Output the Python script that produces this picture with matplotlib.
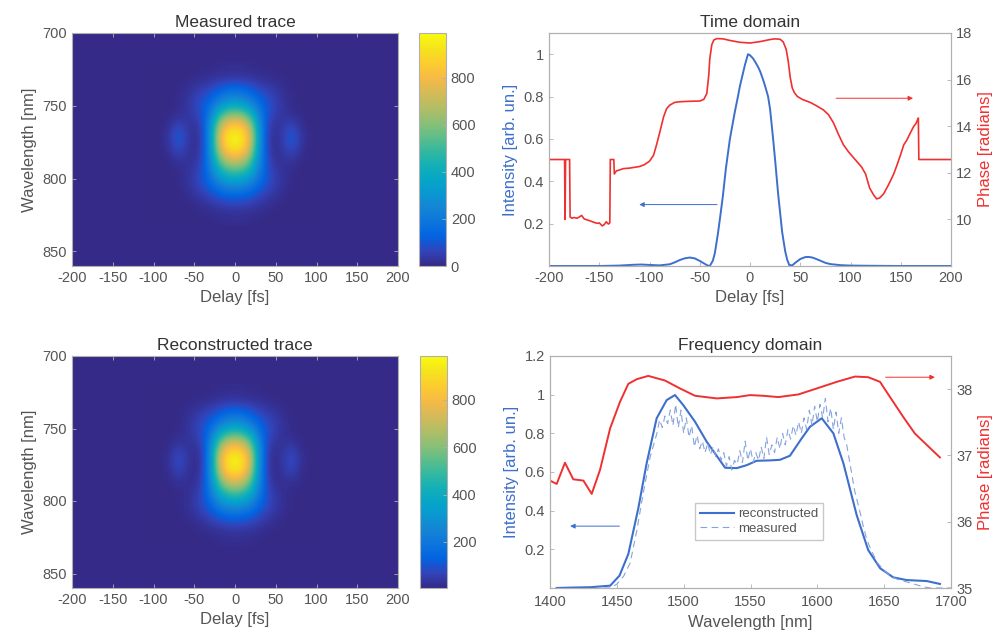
import numpy as np
import matplotlib
matplotlib.use("Agg")
import matplotlib.pyplot as plt
from matplotlib.colors import LinearSegmentedColormap

plt.rcParams['font.family'] = ['Liberation Sans', 'DejaVu Sans']
plt.rcParams['axes.unicode_minus'] = False

# parula-like colormap (every 4th entry of the 64 step table)
parula_pts = [
    (0.2081, 0.1663, 0.5292), (0.1959, 0.2645, 0.7279), (0.0117, 0.3875, 0.8820),
    (0.0498, 0.4586, 0.8641), (0.0793, 0.5200, 0.8312), (0.0343, 0.5966, 0.8199),
    (0.0228, 0.6535, 0.7768), (0.0843, 0.6928, 0.7062), (0.2178, 0.7250, 0.6193),
    (0.3953, 0.7459, 0.5244), (0.5709, 0.7485, 0.4494), (0.7184, 0.7411, 0.3905),
    (0.8507, 0.7299, 0.3360), (0.9739, 0.7314, 0.2666), (0.9880, 0.8066, 0.1794),
    (0.9589, 0.8949, 0.1132), (0.9763, 0.9831, 0.0538)]
parula = LinearSegmentedColormap.from_list("parula", parula_pts)

# ---- FROG traces (values read on a coarse grid, cell centres) ----
delay_nodes = [-100, -90, -80, -70, -60, -50, -40, -30, -20, -10, 0,
               10, 20, 30, 40, 50, 60, 70, 80, 90, 100]
wl_nodes = [724, 732, 740, 748, 756, 764, 772, 780, 788, 796, 804, 812, 820, 828]

trace_meas = [
    [0, 0, 0, 0, 0, 0, 0, 3, 6, 8, 10, 8, 6, 3, 0, 0, 0, 0, 0, 0, 0],
    [0, 0, 0, 0, 3, 8, 14, 20, 28, 34, 38, 34, 28, 20, 14, 8, 3, 0, 0, 0, 0],
    [0, 0, 0, 5, 15, 35, 55, 80, 115, 150, 165, 150, 115, 80, 55, 35, 15, 5, 0, 0, 0],
    [0, 0, 0, 8, 25, 60, 95, 145, 220, 290, 315, 290, 220, 145, 95, 60, 25, 8, 0, 0, 0],
    [0, 0, 3, 12, 25, 50, 90, 215, 430, 560, 600, 560, 430, 215, 90, 50, 25, 12, 3, 0, 0],
    [0, 0, 20, 70, 40, 20, 65, 285, 630, 820, 870, 820, 630, 285, 65, 20, 40, 70, 20, 0, 0],
    [0, 5, 40, 115, 65, 10, 50, 290, 720, 945, 990, 945, 720, 290, 50, 10, 65, 115, 40, 5, 0],
    [0, 0, 25, 80, 45, 10, 55, 280, 670, 880, 935, 880, 670, 280, 55, 10, 45, 80, 25, 0, 0],
    [0, 0, 5, 25, 22, 22, 70, 255, 520, 680, 720, 680, 520, 255, 70, 22, 22, 25, 5, 0, 0],
    [0, 0, 0, 5, 18, 45, 90, 200, 370, 465, 495, 465, 370, 200, 90, 45, 18, 5, 0, 0, 0],
    [0, 0, 0, 5, 20, 50, 88, 140, 215, 270, 285, 270, 215, 140, 88, 50, 20, 5, 0, 0, 0],
    [0, 0, 0, 0, 8, 22, 42, 68, 100, 120, 128, 120, 100, 68, 42, 22, 8, 0, 0, 0, 0],
    [0, 0, 0, 0, 0, 4, 10, 18, 28, 36, 40, 36, 28, 18, 10, 4, 0, 0, 0, 0, 0],
    [0, 0, 0, 0, 0, 0, 0, 3, 6, 8, 10, 8, 6, 3, 0, 0, 0, 0, 0, 0, 0],
]

trace_rec = [
    [5, 5, 5, 5, 5, 5, 5, 7, 10, 12, 13, 12, 10, 7, 5, 5, 5, 5, 5, 5, 5],
    [5, 5, 5, 5, 7, 11, 16, 22, 30, 37, 40, 37, 30, 22, 16, 11, 7, 5, 5, 5, 5],
    [5, 5, 5, 8, 16, 34, 52, 76, 110, 145, 160, 145, 110, 76, 52, 34, 16, 8, 5, 5, 5],
    [5, 5, 5, 10, 24, 55, 88, 138, 212, 285, 312, 285, 212, 138, 88, 55, 24, 10, 5, 5, 5],
    [5, 5, 7, 14, 24, 45, 82, 200, 420, 555, 595, 555, 420, 200, 82, 45, 24, 14, 7, 5, 5],
    [5, 5, 15, 55, 35, 18, 55, 265, 610, 810, 860, 810, 610, 265, 55, 18, 35, 55, 15, 5, 5],
    [5, 8, 30, 90, 55, 10, 42, 265, 700, 930, 986, 930, 700, 265, 42, 10, 55, 90, 30, 8, 5],
    [5, 5, 20, 65, 40, 10, 48, 258, 650, 870, 930, 870, 650, 258, 48, 10, 40, 65, 20, 5, 5],
    [5, 5, 8, 20, 18, 20, 62, 240, 505, 670, 720, 670, 505, 240, 62, 20, 18, 20, 8, 5, 5],
    [5, 5, 5, 8, 16, 40, 82, 188, 360, 455, 490, 455, 360, 188, 82, 40, 16, 8, 5, 5, 5],
    [5, 5, 5, 8, 20, 45, 80, 132, 205, 262, 280, 262, 205, 132, 80, 45, 20, 8, 5, 5, 5],
    [5, 5, 5, 5, 10, 22, 40, 65, 96, 116, 124, 116, 96, 65, 40, 22, 10, 5, 5, 5, 5],
    [5, 5, 5, 5, 5, 7, 12, 20, 29, 36, 40, 36, 29, 20, 12, 7, 5, 5, 5, 5, 5],
    [5, 5, 5, 5, 5, 5, 5, 7, 10, 12, 13, 12, 10, 7, 5, 5, 5, 5, 5, 5, 5],
]

# ---- time domain ----
t_int = [(-200, 0.0), (-150, 0.0), (-130, 0.002), (-115, 0.006), (-108, 0.007),
         (-100, 0.005), (-90, 0.003), (-80, 0.008), (-75, 0.017), (-70, 0.028),
         (-65, 0.036), (-60, 0.04), (-55, 0.036), (-50, 0.024), (-45, 0.01),
         (-42, 0.002), (-40, 0.0), (-37, 0.025), (-35, 0.06), (-32, 0.15),
         (-30, 0.22), (-27, 0.33), (-24, 0.46), (-20, 0.6), (-15, 0.73),
         (-12, 0.8), (-10, 0.85), (-7, 0.91), (-5, 0.95), (-2, 1.0),
         (0, 0.995), (3, 0.98), (5, 0.965), (8, 0.94), (10, 0.92),
         (13, 0.88), (15, 0.85), (18, 0.8), (20, 0.74), (23, 0.6),
         (25, 0.5), (28, 0.34), (30, 0.25), (32, 0.16), (35, 0.07),
         (37, 0.03), (39, 0.005), (42, 0.003), (45, 0.015), (50, 0.033),
         (55, 0.042), (58, 0.043), (62, 0.04), (66, 0.033), (70, 0.025),
         (75, 0.015), (80, 0.009), (90, 0.004), (100, 0.002), (120, 0.001),
         (150, 0.0), (200, 0.0)]

t_phase = [(-200, 12.57), (-184.5, 12.57), (-184, 10.0), (-183.5, 12.57), (-179.5, 12.57),
           (-179, 10.1), (-177, 10.05), (-175, 10.08), (-172, 10.05), (-170, 10.1),
           (-167.5, 10.17), (-165, 10.02), (-160, 9.95), (-155, 9.87), (-152, 9.83),
           (-150, 9.85), (-147, 9.72), (-145, 9.78), (-143, 9.9), (-141, 9.8),
           (-139.5, 9.85), (-139, 12.57), (-135.5, 12.57), (-135, 11.95), (-133, 12.08),
           (-130, 12.12), (-126, 12.18), (-120, 12.2), (-110, 12.27), (-105, 12.35),
           (-100, 12.5), (-96, 12.75), (-93, 13.2), (-90, 13.7), (-86, 14.4),
           (-83, 14.75), (-80, 14.9), (-75, 15.02), (-70, 15.05), (-60, 15.07),
           (-50, 15.08), (-46, 15.15), (-43, 15.4), (-41, 16.2), (-40, 16.9),
           (-38, 17.5), (-36, 17.7), (-33, 17.76), (-27, 17.75), (-20, 17.68),
           (-10, 17.6), (0, 17.57), (10, 17.63), (20, 17.72), (25, 17.75),
           (30, 17.73), (33, 17.62), (36, 17.3), (38, 16.8), (40, 16.1),
           (42, 15.65), (44, 15.45), (47, 15.28), (52, 15.15), (60, 15.02),
           (66, 14.88), (73, 14.7), (78, 14.5), (83, 14.15), (88, 13.65),
           (93, 13.2), (98, 12.9), (103, 12.65), (108, 12.4), (111, 12.25),
           (115, 11.95), (119, 11.35), (123, 11.05), (126, 10.88), (129, 10.92),
           (133, 11.1), (138, 11.5), (143, 11.95), (146, 12.3), (150, 12.8),
           (153, 13.2), (156, 13.4), (160, 13.75), (163, 14.0), (165, 14.1),
           (167, 14.3), (167.5, 14.35), (168, 12.57), (200, 12.57)]

# ---- frequency domain ----
f_rec = [(1405, 0.0), (1415, 0.002), (1430, 0.004), (1445, 0.012), (1452, 0.064),
         (1458.6, 0.176), (1466, 0.41), (1472.3, 0.645), (1479.8, 0.878), (1487.3, 0.972),
         (1493.5, 0.998), (1499.7, 0.946), (1508.5, 0.86), (1517.2, 0.757), (1531, 0.622),
         (1539.7, 0.62), (1547, 0.635), (1554.6, 0.658), (1564.6, 0.66), (1572, 0.663),
         (1579.5, 0.684), (1588.3, 0.774), (1594.5, 0.834), (1603.3, 0.878), (1612, 0.8),
         (1619.5, 0.645), (1629.4, 0.378), (1638, 0.197), (1647, 0.102), (1656.8, 0.055),
         (1666.8, 0.041), (1681.8, 0.036), (1691.7, 0.021)]

f_meas = [(1440, 0.0), (1445, 0.0), (1450, 0.02), (1455, 0.06), (1460, 0.13),
          (1465, 0.3), (1470, 0.5), (1475, 0.68), (1480, 0.8), (1482, 0.87),
          (1484, 0.83), (1486, 0.89), (1488, 0.85), (1490, 0.92), (1492, 0.84),
          (1494, 0.95), (1496, 0.83), (1498, 0.92), (1500, 0.8), (1502, 0.88),
          (1504, 0.78), (1506, 0.84), (1508, 0.73), (1510, 0.79), (1512, 0.72),
          (1514, 0.76), (1516, 0.7), (1518, 0.75), (1520, 0.69), (1522, 0.73),
          (1524, 0.68), (1526, 0.72), (1528, 0.66), (1530, 0.7), (1532, 0.63),
          (1534, 0.68), (1536, 0.61), (1538, 0.66), (1540, 0.64), (1542, 0.71),
          (1544, 0.65), (1546, 0.76), (1548, 0.66), (1550, 0.72), (1552, 0.65),
          (1554, 0.7), (1556, 0.66), (1558, 0.73), (1560, 0.67), (1562, 0.78),
          (1564, 0.69), (1566, 0.74), (1568, 0.7), (1570, 0.78), (1572, 0.72),
          (1574, 0.8), (1576, 0.74), (1578, 0.82), (1580, 0.77), (1582, 0.84),
          (1584, 0.79), (1586, 0.86), (1588, 0.8), (1590, 0.88), (1592, 0.82),
          (1594, 0.92), (1596, 0.84), (1598, 0.94), (1600, 0.86), (1602, 0.95),
          (1604, 0.88), (1606, 0.98), (1608, 0.86), (1610, 0.93), (1612, 0.82),
          (1614, 0.91), (1616, 0.8), (1618, 0.88), (1620, 0.78), (1622, 0.74),
          (1625, 0.62), (1628, 0.5), (1631, 0.42), (1634, 0.33), (1637, 0.25),
          (1640, 0.2), (1645, 0.13), (1650, 0.09), (1655, 0.06), (1660, 0.045),
          (1665, 0.035), (1670, 0.025), (1675, 0.015), (1680, 0.005), (1685, 0.0),
          (1690, 0.0), (1700, 0.0)]

f_phase = [(1400, 36.62), (1405, 36.57), (1411.2, 36.89), (1417.4, 36.64), (1425, 36.62),
           (1431.2, 36.42), (1437.4, 36.78), (1445, 37.41), (1452.4, 37.81), (1458.6, 38.08),
           (1464.9, 38.15), (1473.5, 38.2), (1486, 38.13), (1497.3, 38.01), (1508.5, 37.9),
           (1524.7, 37.86), (1539.7, 37.88), (1549.6, 37.91), (1559.6, 37.9), (1570.8, 37.88),
           (1585.8, 37.92), (1599.5, 38.01), (1614.5, 38.11), (1628.2, 38.19), (1638.1, 38.18),
           (1646.9, 38.11), (1654.4, 37.88), (1664.3, 37.58), (1673, 37.33), (1681.8, 37.16),
           (1691.7, 36.97)]

BLUE = '#3d6fcc'
LBLUE = '#86a3dd'
RED = '#f03030'
GRAY = '#555555'
SPINE = '#b0b0b0'


def style(ax):
    for s in ax.spines.values():
        s.set_color(SPINE)
        s.set_linewidth(0.8)
    ax.tick_params(direction='in', colors=SPINE, labelcolor=GRAY, labelsize=10.5,
                   length=3, width=0.6)


fig = plt.figure(figsize=(9.93, 6.41), dpi=100)
W, H = 993.0, 641.0


def rect(x0, y0, x1, y1):
    return [x0 / W, 1 - y1 / H, (x1 - x0) / W, (y1 - y0) / H]


panels = [
    ("Measured trace", trace_meas, 33, 266, 0, 990, [0, 200, 400, 600, 800], 419),
    ("Reconstructed trace", trace_rec, 356, 588, 5, 986, [200, 400, 600, 800], 420),
]
for title, tr, top, bot, vmin, vmax, cticks, cx in panels:
    ax = fig.add_axes(rect(72, top, 398, bot))
    ax.set_facecolor(parula(0.0))
    dd = delay_nodes[1] - delay_nodes[0]
    dw = wl_nodes[1] - wl_nodes[0]
    m = ax.imshow(np.array(tr, dtype=float), cmap=parula, vmin=vmin, vmax=vmax,
                  interpolation='bicubic', aspect='auto', origin='upper',
                  extent=[delay_nodes[0] - dd / 2, delay_nodes[-1] + dd / 2,
                          wl_nodes[-1] + dw / 2, wl_nodes[0] - dw / 2])
    ax.set_xlim(-200, 200)
    ax.set_ylim(860, 700)
    ax.set_xticks(range(-200, 201, 50))
    ax.set_yticks([700, 750, 800, 850])
    ax.set_xlabel("Delay [fs]", fontsize=12, color=GRAY)
    ax.set_ylabel("Wavelength [nm]", fontsize=12, color=GRAY)
    ax.set_title(title, fontsize=12.5, color='#333333', pad=4)
    style(ax)
    ax.tick_params(top=True, right=True)
    cax = fig.add_axes(rect(cx, top, cx + 27, bot))
    cb = fig.colorbar(m, cax=cax, ticks=cticks)
    cb.outline.set_edgecolor(SPINE)
    cb.outline.set_linewidth(0.8)
    cax.tick_params(direction='in', colors=SPINE, labelcolor=GRAY, labelsize=10.5,
                    length=3, width=0.6)

# time domain
ax = fig.add_axes(rect(549, 33, 951, 266))
tx, ty = zip(*t_int)
ax.plot(tx, ty, color=BLUE, lw=1.4)
ax.set_xlim(-200, 200)
ax.set_ylim(0, 1.1)
ax.set_xticks(range(-200, 201, 50))
ax.set_yticks([0.2, 0.4, 0.6, 0.8, 1])
ax.set_yticklabels(['0.2', '0.4', '0.6', '0.8', '1'])
ax.set_xlabel("Delay [fs]", fontsize=12, color=GRAY)
ax.set_ylabel("Intensity [arb. un.]", fontsize=12, color=BLUE)
ax.set_title("Time domain", fontsize=12.5, color='#333333', pad=4)
style(ax)
ax2 = ax.twinx()
px, py = zip(*t_phase)
ax2.plot(px, py, color=RED, lw=1.2)
ax2.set_ylim(8, 18)
ax2.set_yticks([10, 12, 14, 16, 18])
ax2.set_ylabel("Phase [radians]", fontsize=12, color=RED)
style(ax2)
ax.annotate("", xy=(-113, 0.29), xytext=(-30, 0.29),
            arrowprops=dict(arrowstyle='-|>', color=BLUE, lw=0.7, mutation_scale=7))
ax2.annotate("", xy=(165, 15.2), xytext=(83, 15.2),
             arrowprops=dict(arrowstyle='-|>', color=RED, lw=0.7, mutation_scale=7))

# frequency domain
ax = fig.add_axes(rect(550, 356, 951, 588))
rx, ry = zip(*f_rec)
mx, my = zip(*f_meas)
ax.plot(rx, ry, color=BLUE, lw=1.5, label="reconstructed")
ax.plot(mx, my, color=LBLUE, lw=0.8, ls=(0, (6, 4)), label="measured")
ax.set_xlim(1400, 1700)
ax.set_ylim(0, 1.2)
ax.set_xticks(range(1400, 1701, 50))
ax.set_yticks([0.2, 0.4, 0.6, 0.8, 1, 1.2])
ax.set_yticklabels(['0.2', '0.4', '0.6', '0.8', '1', '1.2'])
ax.set_xlabel("Wavelength [nm]", fontsize=12, color=GRAY)
ax.set_ylabel("Intensity [arb. un.]", fontsize=12, color=BLUE)
ax.set_title("Frequency domain", fontsize=12.5, color='#333333', pad=4)
style(ax)
ax.tick_params(axis='x', pad=5)
leg = ax.legend(loc='lower left', bbox_to_anchor=(0.345, 0.18), fontsize=9.5,
                fancybox=False, framealpha=1, edgecolor='#c8c8c8', handlelength=2.6,
                borderpad=0.35, labelspacing=0.2, handletextpad=0.3)
for txt in leg.get_texts():
    txt.set_color(GRAY)
ax2 = ax.twinx()
fx, fy = zip(*f_phase)
ax2.plot(fx, fy, color=RED, lw=1.4)
ax2.set_ylim(35, 38.5)
ax2.set_yticks([35, 36, 37, 38])
ax2.set_ylabel("Phase [radians]", fontsize=12, color=RED)
style(ax2)
ax2.tick_params(axis='y', pad=4)
ax.annotate("", xy=(1413, 0.32), xytext=(1454, 0.32),
            arrowprops=dict(arrowstyle='-|>', color=BLUE, lw=0.7, mutation_scale=7))
ax2.annotate("", xy=(1690, 38.18), xytext=(1649, 38.18),
             arrowprops=dict(arrowstyle='-|>', color=RED, lw=0.7, mutation_scale=7))

fig.savefig("out.png", dpi=100)
